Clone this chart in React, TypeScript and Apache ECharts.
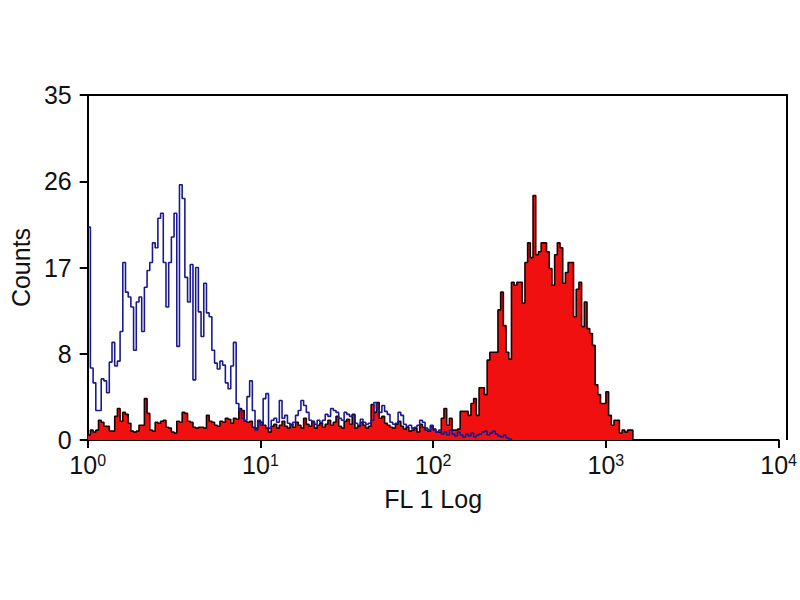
import React, { useEffect, useRef } from 'react';
import * as echarts from 'echarts';

// 256 channels over 4 decades (64 per decade)
const channelsPerDecade = 64;
const decadeLabels = ['0', '1', '2', '3', '4'];
const yTicks = [0, 8.75, 17.5, 26.25, 35];

// isotype control (blue outline), channels 0..
const controlCounts = [
  21.6, 7.3, 5.8, 3, 3, 6.2, 6, 4.8, 7.9, 9.9,
  7.5, 8, 11, 18, 15, 14.5, 13.5, 9.1, 14, 14.5,
  11, 15.5, 17.2, 18, 20, 19.5, 22.5, 23, 18, 13.5,
  18, 20.6, 23, 9.5, 25.9, 24.5, 16.5, 14, 17.8, 6.1,
  17.5, 13, 10.5, 15.9, 12.9, 12.5, 9.1, 7.8, 7.2, 8,
  7.6, 5.8, 5.2, 7.5, 9.9, 3.7, 3, 2.2, 2, 4.4,
  6, 3, 1, 2, 1.5, 4.2, 4.7, 1.2, 2, 2.2,
  1.8, 4, 2.2, 2.5, 1.7, 1.5, 1.8, 2.5, 3, 4,
  3.5, 2.8, 2, 1.8, 1.6, 2, 1.8, 2, 2.6, 2.4,
  3.2, 3, 2.8, 2.2, 2, 2.8, 2.6, 2.4, 2.5, 1.7,
  1.5, 2.1, 1.8, 1.6, 1.7, 2, 3.8, 3.2, 2.8, 3.5,
  2.9, 2.6, 1.8, 1.6, 1.7, 2.8, 2.5, 1.6, 1.4, 1.5,
  1.2, 1.3, 1.5, 2, 1.8, 1.2, 1, 1.5, 1, 0.8,
  1, 0.6, 0.8, 0.5, 1, 0.6, 0.4, 0.8, 0.5, 0.3,
  0.6, 0.4, 0.7, 0.3, 0.5, 0.6, 0.8, 0.9, 0.5, 0.7,
  0.9, 0.6, 0.4, 0.3, 0.5, 0.2, 0.1, 0,
];

// stained sample (red fill), channels 0..
const stainedCounts = [
  0.5, 1, 0.8, 1, 2, 1.8, 1.4, 1.4, 0.9, 0.9,
  2.4, 3.2, 1.9, 2.8, 2.6, 1.7, 0.9, 0.8, 0.9, 1.5,
  1.5, 4.2, 2.7, 1, 0.9, 1.8, 1.7, 1.9, 2, 1.3,
  1.2, 0.8, 0.7, 1.9, 1.8, 2.8, 2.7, 1.9, 1.8, 1.3,
  1.2, 1.3, 1.3, 1.2, 2.5, 1.9, 1.8, 1.5, 1.4, 1.9,
  1.8, 2.2, 2.1, 1.7, 2.2, 2.1, 3.2, 3, 1.9, 1.8,
  1.9, 1.3, 1.2, 1.9, 1.8, 1.5, 1.2, 0.8, 1.4, 1.6,
  1.2, 1.5, 1.9, 1.4, 1.2, 1.6, 1.3, 1.8, 1.5, 1.2,
  2.2, 1.6, 1.4, 1.9, 1.2, 1.5, 1.7, 1.3, 1.6, 2,
  1.5, 1.8, 2.4, 1.4, 1.2, 1.9, 2.1, 1.6, 2.6, 1.2,
  1.4, 1.8, 1.5, 1.2, 1.4, 3.6, 2.8, 3.8, 2.2, 2.4,
  1.7, 1.5, 1.3, 1.2, 1.6, 1.9, 1.4, 1.1, 1.3, 0.9,
  1, 1.2, 0.8, 1.6, 1.3, 1, 0.9, 1.4, 1.1, 0.8,
  0.8, 2.2, 3.2, 1.5, 2.2, 1, 1, 1.1, 2.9, 2.9,
  2.9, 2.5, 3.7, 4.2, 2.5, 5.3, 5.3, 4.6, 8.1, 8.9,
  8.9, 8.9, 13.2, 15, 11.6, 8.9, 8.2, 16, 15.7, 16,
  16, 13.9, 18, 20, 18.5, 24.8, 18.8, 19.1, 20, 20,
  19.1, 17.4, 15.7, 18.8, 20, 19.5, 15.9, 17, 18, 18,
  12.5, 15.3, 16, 11.5, 14, 11.3, 10.8, 9.6, 5.6, 4.6,
  3.7, 3.7, 4.9, 2.5, 1.5, 2, 2, 0.7, 1, 0.8,
  1, 1, 0,
];

const toSteps = (counts: number[]) => counts.map((v, i) => [i, v]);

const labelFont = '"Liberation Sans", Arial, sans-serif';

const App: React.FC = () => {
  const chartRef = useRef<HTMLDivElement | null>(null);

  useEffect(() => {
    if (!chartRef.current) return;
    const chart = echarts.init(chartRef.current, null, { renderer: 'svg' });

    const option = {
      animation: false,
      backgroundColor: '#ffffff',
      grid: { left: 86, top: 95, right: 13, bottom: 160, show: false },
      xAxis: {
        type: 'value',
        min: 0,
        max: (decadeLabels.length - 1) * channelsPerDecade,
        interval: channelsPerDecade,
        name: 'FL 1 Log',
        nameLocation: 'middle',
        nameGap: 46,
        nameTextStyle: { fontSize: 25, color: '#111', fontFamily: labelFont },
        axisLine: { show: true, onZero: false, lineStyle: { color: '#000', width: 2 } },
        axisTick: { show: true, inside: false, length: 8, lineStyle: { color: '#000', width: 2 } },
        splitLine: { show: false },
        axisLabel: {
          margin: 12,
          color: '#111',
          fontFamily: labelFont,
          fontSize: 25,
          formatter: (v: number) => `10{sup|${decadeLabels[Math.round(v / channelsPerDecade)]}}`,
          rich: {
            sup: { fontSize: 16, fontFamily: labelFont, color: '#111', padding: [0, 0, 10, 0] },
          },
        },
      },
      yAxis: {
        type: 'value',
        min: yTicks[0],
        max: yTicks[yTicks.length - 1],
        interval: yTicks[1] - yTicks[0],
        name: 'Counts',
        nameLocation: 'middle',
        nameGap: 53,
        nameTextStyle: { fontSize: 25, color: '#111', fontFamily: labelFont },
        axisLine: { show: true, lineStyle: { color: '#000', width: 2 } },
        axisTick: { show: true, inside: false, length: 8, lineStyle: { color: '#000', width: 2 } },
        splitLine: { show: false },
        axisLabel: {
          margin: 16,
          color: '#111',
          fontFamily: labelFont,
          fontSize: 25,
          formatter: (v: number) => String(Math.floor(v)),
        },
      },
      graphic: [
        {
          type: 'polyline',
          shape: { points: [[86, 95], [787, 95], [787, 440]] },
          style: { stroke: '#000', lineWidth: 2, fill: 'none' },
          z: 10,
        },
      ],
      series: [
        {
          name: 'stained',
          type: 'line',
          step: 'end',
          symbol: 'none',
          data: toSteps(stainedCounts),
          lineStyle: { color: '#1a0000', width: 1.6 },
          areaStyle: { color: '#f01010', opacity: 1, origin: 'start' },
          z: 2,
        },
        {
          name: 'control',
          type: 'line',
          step: 'end',
          symbol: 'none',
          data: toSteps(controlCounts),
          lineStyle: { color: '#1a1a8c', width: 1.6 },
          z: 3,
        },
      ],
    };

    chart.setOption(option);
    return () => chart.dispose();
  }, []);

  return (
    <div
      ref={chartRef}
      style={{ position: 'fixed', left: 0, top: 0, width: '800px', height: '600px' }}
    />
  );
};

export default App;
